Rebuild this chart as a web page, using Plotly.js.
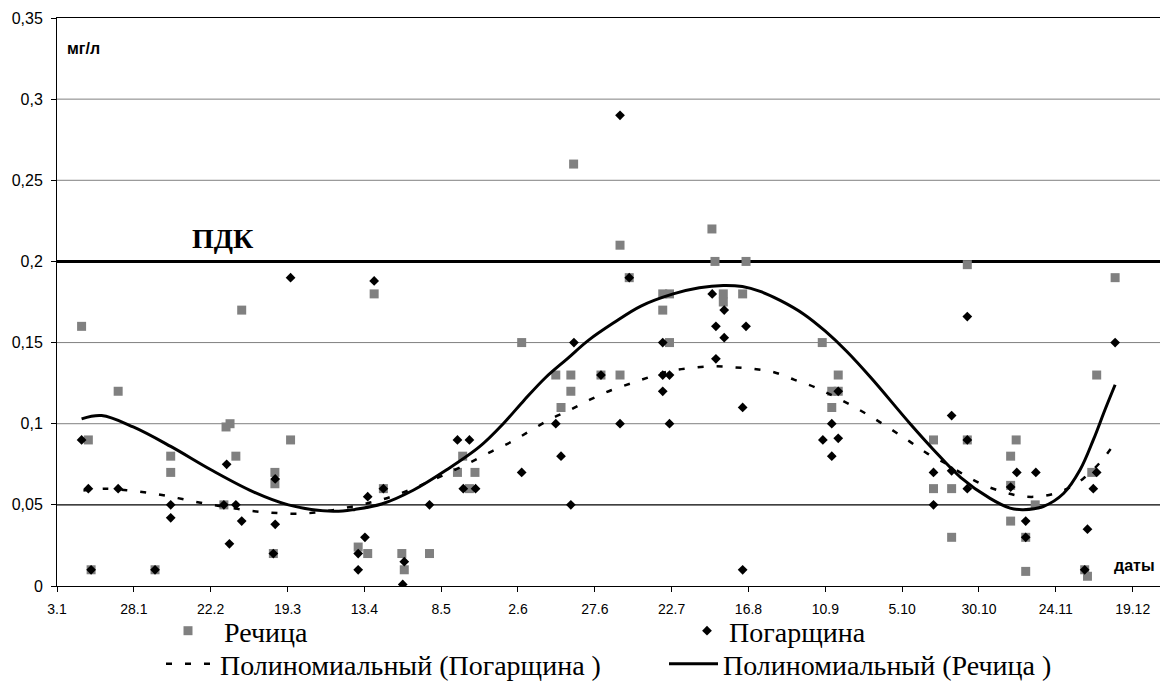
<!DOCTYPE html>
<html>
<head>
<meta charset="utf-8">
<script src="https://cdn.plot.ly/plotly-3.0.1.min.js"></script>
<style>
  html, body { margin: 0; padding: 0; background: #fff; }
  #chart { width: 1160px; height: 694px; }
</style>
</head>
<body>
<div id="chart"></div>
<script>
// ---- Data (day of year, concentration mg/l) ----
const rechitsaDays = [11.0, 13.2, 14.1, 22.9, 34.9, 40.0, 40.0, 57.3, 58.0, 59.3, 61.2, 63.1, 73.4, 73.9, 73.9, 79.0,
  101.0, 104.1, 106.2, 109.2, 115.2, 116.0, 124.2, 133.3, 135.0, 137.2, 139.0, 154.2, 165.3, 167.0, 170.2, 170.2,
  171.1, 180.0, 186.2, 186.2, 189.2, 200.1, 200.1, 202.3, 202.3, 216.1, 217.1, 219.8, 219.8, 226.1, 227.2,
  252.0, 255.1, 255.1, 257.2, 257.2, 288.2, 288.2, 294.1, 294.1, 299.2, 299.2, 313.3, 313.3, 313.3, 315.1,
  318.2, 318.2, 321.3, 337.4, 338.3, 339.7, 341.3, 347.3];
const rechitsaValues = [0.16, 0.09, 0.01, 0.12, 0.01, 0.08, 0.07, 0.05, 0.098, 0.1, 0.08, 0.17, 0.02, 0.07, 0.063, 0.09,
  0.024, 0.02, 0.18, 0.06, 0.02, 0.01, 0.02, 0.07, 0.08, 0.06, 0.07, 0.15, 0.13, 0.11, 0.13, 0.12,
  0.26, 0.13, 0.13, 0.21, 0.19, 0.17, 0.18, 0.18, 0.15, 0.22, 0.20, 0.18, 0.175, 0.18, 0.20,
  0.15, 0.12, 0.11, 0.13, 0.12, 0.09, 0.06, 0.06, 0.03, 0.09, 0.198, 0.08, 0.062, 0.04, 0.09,
  0.03, 0.009, 0.05, 0.01, 0.006, 0.07, 0.13, 0.19];

const pogarshchinaDays = [11.0, 13.2, 14.1, 22.9, 34.9, 40.0, 40.0, 57.3, 58.2, 59.1, 61.2, 63.1, 73.4, 74.0, 74.0, 79.0,
  101.0, 101.0, 103.2, 104.1, 106.2, 109.2, 115.5, 116.0, 124.2, 133.3, 137.2, 135.2, 139.2, 154.2, 165.3, 167.0,
  170.2, 171.2, 180.0, 186.2, 186.2, 189.2, 200.1, 200.1, 200.1, 202.3, 202.3, 216.2, 217.4, 217.4, 220.1, 220.1,
  227.2, 226.1, 226.1, 252.2, 255.1, 255.1, 257.2, 257.2, 288.2, 288.2, 294.1, 294.1, 299.2, 299.2, 299.2,
  313.3, 315.3, 321.5, 318.2, 318.2, 337.4, 338.3, 340.2, 341.3, 347.3];
const pogarshchinaValues = [0.09, 0.06, 0.01, 0.06, 0.01, 0.05, 0.042, 0.05, 0.075, 0.026, 0.05, 0.04, 0.02, 0.066, 0.038, 0.19,
  0.02, 0.01, 0.03, 0.055, 0.188, 0.06, 0.001, 0.015, 0.05, 0.09, 0.09, 0.06, 0.06, 0.07, 0.10, 0.08,
  0.05, 0.15, 0.13, 0.10, 0.29, 0.19, 0.15, 0.13, 0.12, 0.13, 0.10, 0.18, 0.16, 0.14, 0.17, 0.153,
  0.16, 0.11, 0.01, 0.09, 0.10, 0.08, 0.12, 0.091, 0.07, 0.05, 0.105, 0.071, 0.166, 0.09, 0.06,
  0.061, 0.07, 0.07, 0.04, 0.03, 0.01, 0.035, 0.06, 0.07, 0.15];

// Polynomial trend lines as drawn in the source chart
const trendRechitsaDays = [11.0, 17.5, 27.8, 40.0, 53.1, 66.9, 78.3, 92.9, 100.0, 108.6, 118.9, 129.8, 140.6, 148.2,
  155.0, 162.0, 169.0, 176.0, 184.0, 193.0, 203.5, 212.0, 219.8, 226.0, 231.8, 238.3, 246.0, 253.0, 260.0,
  268.0, 280.6, 288.2, 297.0, 306.6, 313.1, 317.4, 323.9, 330.5, 335.9, 340.2, 344.0, 347.3];
const trendRechitsaValues = [0.103, 0.105, 0.098, 0.086, 0.0716, 0.058, 0.050, 0.0460, 0.0472, 0.0505, 0.059, 0.0716, 0.086, 0.100,
  0.1145, 0.1285, 0.140, 0.1515, 0.162, 0.1725, 0.1800, 0.1838, 0.1852, 0.1845, 0.1815, 0.1760, 0.1675, 0.157, 0.1445,
  0.128, 0.100, 0.084, 0.067, 0.054, 0.048, 0.047, 0.049, 0.057, 0.0716, 0.090, 0.1086, 0.124];

const trendPogarshchinaDays = [11.6, 18.6, 25.7, 32.2, 38.7, 45.2, 51.7, 58.2, 65.3, 71.8, 78.6, 85.1, 91.3, 98.1, 104.9,
  111.4, 118.4, 124.7, 131.4, 138.0, 144.5, 151.0, 157.2, 163.7, 170.0, 176.4, 183.3, 190.0, 196.5, 203.0,
  209.7, 216.6, 223.1, 229.8, 236.3, 242.8, 249.7, 256.2, 262.7, 268.6, 274.6, 280.4, 286.0, 292.0, 298.2,
  304.4, 311.2, 317.8, 324.5, 331.0, 336.8, 342.2, 346.8];
const trendPogarshchinaValues = [0.0588, 0.060, 0.059, 0.0576, 0.0556, 0.053, 0.0506, 0.0486, 0.0465, 0.0453, 0.0446, 0.0449, 0.0463, 0.0486, 0.0514,
  0.0548, 0.0597, 0.0648, 0.0706, 0.0767, 0.083, 0.089, 0.0959, 0.103, 0.1086, 0.1148, 0.1206, 0.125, 0.1292, 0.1327,
  0.1344, 0.1354, 0.1348, 0.1337, 0.1317, 0.1272, 0.1224, 0.1165, 0.110, 0.1035, 0.0963, 0.0891, 0.0819, 0.0757, 0.0685,
  0.0623, 0.0578, 0.0551, 0.0556, 0.0593, 0.066, 0.0757, 0.087];

const xTickDays = [3, 28, 53, 78, 103, 128, 153, 178, 203, 228, 253, 278, 303, 328, 353];
const xTickLabels = ['3.1', '28.1', '22.2', '19.3', '13.4', '8.5', '2.6', '27.6', '22.7', '16.8', '10.9', '5.10', '30.10', '24.11', '19.12'];
const yTickValues = [0, 0.05, 0.1, 0.15, 0.2, 0.25, 0.3, 0.35];
const yTickLabels = ['0', '0,05', '0,1', '0,15', '0,2', '0,25', '0,3', '0,35'];
const grayGridValues = [0.1, 0.15, 0.25, 0.3];

const seriesNames = ['Речица', 'Погарщина', 'Полиномиальный (Погарщина )', 'Полиномиальный (Речица )'];
const PDK = 0.2;
const referenceLevel = 0.05;

const sans = 'Arial, "Liberation Sans", sans-serif';
const serif = '"Times New Roman", "Liberation Serif", serif';

const traces = [
  {
    type: 'scatter', mode: 'markers', name: seriesNames[0], legend: 'legend',
    x: rechitsaDays, y: rechitsaValues,
    marker: { symbol: 'square', size: 9, color: '#808080' }
  },
  {
    type: 'scatter', mode: 'markers', name: seriesNames[1], legend: 'legend2',
    x: pogarshchinaDays, y: pogarshchinaValues,
    marker: { symbol: 'diamond', size: 7.5, color: '#000000' }
  },
  {
    type: 'scatter', mode: 'lines', name: seriesNames[2], legend: 'legend3',
    x: trendPogarshchinaDays, y: trendPogarshchinaValues,
    line: { color: '#000000', width: 2.5, dash: '6px,13px', shape: 'spline', smoothing: 1 }
  },
  {
    type: 'scatter', mode: 'lines', name: seriesNames[3], legend: 'legend4',
    x: trendRechitsaDays, y: trendRechitsaValues,
    line: { color: '#000000', width: 3, shape: 'spline', smoothing: 1 }
  }
];

function legendBox(leftPx, centerYPx, symbolWidth) {
  return {
    xref: 'container', yref: 'container',
    x: leftPx / 1160, y: 1 - centerYPx / 694, xanchor: 'left', yanchor: 'middle',
    font: { family: serif, size: 28, color: '#000' },
    bgcolor: 'rgba(0,0,0,0)', borderwidth: 0, itemwidth: symbolWidth
  };
}

const gridShapes = grayGridValues.map(v => ({
  type: 'line', xref: 'paper', x0: 0, x1: 1, yref: 'y', y0: v, y1: v,
  line: { color: '#808080', width: 1 }, layer: 'below'
}));

const layout = {
  width: 1160, height: 694,
  margin: { l: 57, r: 0, t: 18, b: 108, autoexpand: false },
  paper_bgcolor: '#ffffff', plot_bgcolor: '#ffffff',
  font: { family: sans, color: '#000000' },
  xaxis: {
    range: [3, 361.9],
    tickmode: 'array', tickvals: xTickDays, ticktext: xTickLabels,
    ticks: 'outside', ticklen: 5, tickcolor: '#000', tickwidth: 1,
    showline: true, linecolor: '#000', linewidth: 1, mirror: true,
    showgrid: false, zeroline: false, ticklabelstandoff: 5,
    tickfont: { family: sans, size: 14, color: '#000' }
  },
  yaxis: {
    range: [0, 0.35],
    tickmode: 'array', tickvals: yTickValues, ticktext: yTickLabels,
    ticks: 'outside', ticklen: 5, tickcolor: '#000', tickwidth: 1,
    showline: true, linecolor: '#000', linewidth: 1,
    showgrid: false, zeroline: false,
    ticklabelstandoff: 5,
    tickfont: { family: sans, size: 16, color: '#000' }
  },
  shapes: gridShapes.concat([
    { type: 'line', xref: 'paper', x0: 0, x1: 1, yref: 'y', y0: referenceLevel, y1: referenceLevel,
      line: { color: '#000', width: 1.2 }, layer: 'below' },
    { type: 'line', xref: 'paper', x0: 0, x1: 1, yref: 'y', y0: PDK, y1: PDK,
      line: { color: '#000', width: 3 }, layer: 'below' }
  ]),
  annotations: [
    { text: '<b>мг/л</b>', xref: 'x', yref: 'y', x: 5.7, y: 0.331, xanchor: 'left', yanchor: 'middle',
      showarrow: false, font: { family: sans, size: 16, color: '#000' } },
    { text: '<b>ПДК</b>', xref: 'x', yref: 'y', x: 46.3, y: 0.214, xanchor: 'left', yanchor: 'middle',
      showarrow: false, font: { family: serif, size: 28, color: '#000' } },
    { text: '<b>даты</b>', xref: 'x', yref: 'y', x: 346.2, y: 0.0125, xanchor: 'left', yanchor: 'middle',
      showarrow: false, font: { family: sans, size: 16, color: '#000' } }
  ],
  showlegend: true,
  legend: legendBox(152, 631, 62),
  legend2: legendBox(685, 631, 34),
  legend3: legendBox(161, 664, 49),
  legend4: legendBox(664, 664, 49)
};

Plotly.newPlot('chart', traces, layout, { staticPlot: true, displayModeBar: false });
</script>
</body>
</html>
